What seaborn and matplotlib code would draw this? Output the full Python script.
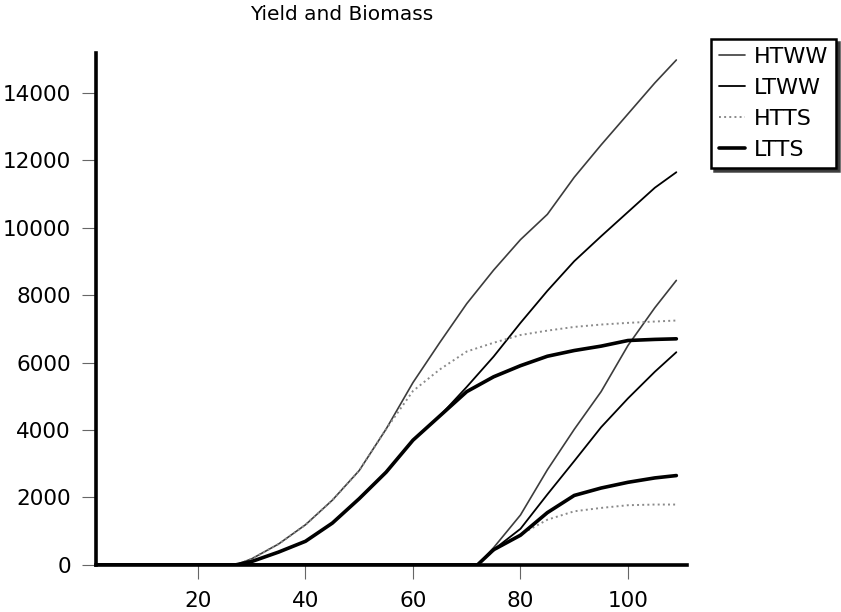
"""
Yield and Biomass – odtworzenie wykresu krzywych plonu i biomasy dla czterech wariantów.
"""

import matplotlib
matplotlib.use('Agg')
import matplotlib.pyplot as plt
import seaborn as sns

# dni (oś X) – osobne siatki dla biomasy i plonu
biomass_days = [1, 27, 30, 35, 40, 45, 50, 55, 60, 65, 70, 75, 80, 85, 90, 95, 100, 105, 109]
yield_days = [1, 72, 75, 80, 85, 90, 95, 100, 105, 109]

# biomasa
htww_biomass = [0, 0, 180, 620, 1190, 1920, 2800, 4030, 5410, 6600, 7750, 8745, 9650,
                10400, 11500, 12460, 13380, 14300, 14980]
ltww_biomass = [0, 0, 100, 380, 700, 1240, 1965, 2750, 3700, 4420, 5280, 6180, 7180,
                8130, 9010, 9750, 10470, 11190, 11650]
htts_biomass = [0, 0, 180, 620, 1190, 1920, 2800, 4030, 5160, 5800, 6330, 6590, 6820,
                6950, 7060, 7130, 7180, 7220, 7250]
ltts_biomass = [0, 0, 100, 380, 700, 1240, 1965, 2750, 3700, 4420, 5140, 5580, 5910,
                6190, 6360, 6490, 6657, 6690, 6707]

# plon
htww_yield = [0, 0, 510, 1480, 2820, 4020, 5140, 6510, 7630, 8440]
ltww_yield = [0, 0, 450, 1070, 2090, 3080, 4084, 4940, 5730, 6310]
htts_yield = [0, 0, 420, 900, 1340, 1590, 1690, 1770, 1790, 1790]
ltts_yield = [0, 0, 450, 880, 1550, 2060, 2280, 2450, 2580, 2650]

labels = ['HTWW', 'LTWW', 'HTTS', 'LTTS']
x_ticks = [20, 40, 60, 80, 100]
y_ticks = [0, 2000, 4000, 6000, 8000, 10000, 12000, 14000]

styles = {
    'HTWW': dict(color='#3c3c3c', lw=1.2, ls='-'),
    'LTWW': dict(color='black', lw=1.3, ls='-'),
    'HTTS': dict(color='#8a8a8a', lw=1.4, ls=':'),
    'LTTS': dict(color='black', lw=2.6, ls='-'),
}

sns.set_style('ticks')
plt.rcParams['font.family'] = ['DejaVu Sans']
plt.rcParams['text.color'] = 'black'

fig = plt.figure(figsize=(8.41, 6.12), dpi=100)
ax = fig.add_axes([0.114, 0.077, 0.703, 0.836])

biomass = dict(zip(labels, [htww_biomass, ltww_biomass, htts_biomass, ltts_biomass]))
yields = dict(zip(labels, [htww_yield, ltww_yield, htts_yield, ltts_yield]))

for name in labels:
    st = styles[name]
    sns.lineplot(x=biomass_days, y=biomass[name], ax=ax, color=st['color'],
                 linewidth=st['lw'], linestyle=st['ls'], label=name)
    sns.lineplot(x=yield_days, y=yields[name], ax=ax, color=st['color'],
                 linewidth=st['lw'], linestyle=st['ls'], legend=False)

ax.set_xlim(1, 111)
ax.set_ylim(0, 15180)
ax.set_xticks(x_ticks)
ax.set_yticks(y_ticks)
ax.set_xlabel('')
ax.set_ylabel('')

for side in ['top', 'right']:
    ax.spines[side].set_visible(False)
for side in ['left', 'bottom']:
    ax.spines[side].set_linewidth(2.6)
    ax.spines[side].set_color('black')

ax.tick_params(axis='both', direction='out', length=10, width=0.8, color='#666666',
               labelsize=15.5, labelcolor='black')
ax.tick_params(axis='y', pad=8)
ax.tick_params(axis='x', pad=8.5)

fig.text(342 / 841, 1 - 14 / 612, 'Yield and Biomass', ha='center', va='center',
         fontsize=14.5, color='black')

leg = ax.legend(loc='upper left', bbox_to_anchor=(711 / 841, 1 - 39 / 612),
                bbox_transform=fig.transFigure, borderaxespad=0, fontsize=16,
                handlelength=1.2, handletextpad=0.4, labelspacing=0.5, borderpad=0.35,
                fancybox=False, framealpha=1, edgecolor='black',
                shadow={'color': '#333333', 'alpha': 0.9})
leg.get_frame().set_linewidth(1.8)
for txt in leg.get_texts():
    txt.set_color('black')

fig.savefig('out.png', dpi=100)
plt.close(fig)
